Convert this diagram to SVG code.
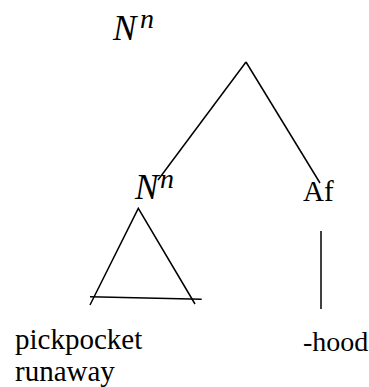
<svg xmlns="http://www.w3.org/2000/svg" width="369" height="387" viewBox="0 0 369 387">
<style>
.ln{stroke:#000;stroke-width:1.5;fill:none;stroke-linecap:butt}
.m{font-family:"Liberation Serif",serif;font-style:italic;fill:#000}
.t{font-family:"Liberation Serif",serif;fill:#000}
</style>
<rect width="369" height="387" fill="#fff"/>
<g id="connectors">
<line class="ln" x1="246" y1="62" x2="158" y2="180"/>
<line class="ln" x1="246" y1="62" x2="320" y2="183"/>
<line class="ln" x1="321" y1="231" x2="321" y2="309"/>
</g>
<g id="root">
<text class="m" x="113" y="40" font-size="35">N</text>
<text class="m" x="140" y="28" font-size="28">n</text>
</g>
<g id="noun">
<text class="m" x="135" y="199" font-size="35">N</text>
<text class="m" x="160" y="188" font-size="28">n</text>
<path class="ln" d="M90,305 L138.3,208.3 L195,304"/>
<line class="ln" x1="90" y1="296.7" x2="201.7" y2="299.3"/>
</g>
<g id="affix">
<text class="t" x="303" y="201" font-size="29">Af</text>
</g>
<g id="words">
<text class="t" x="15" y="349" font-size="29">pickpocket</text>
<text class="t" x="15" y="381" font-size="29">runaway</text>
</g>
<g id="hood">
<text class="t" x="303" y="351" font-size="28">-hood</text>
</g>
</svg>
